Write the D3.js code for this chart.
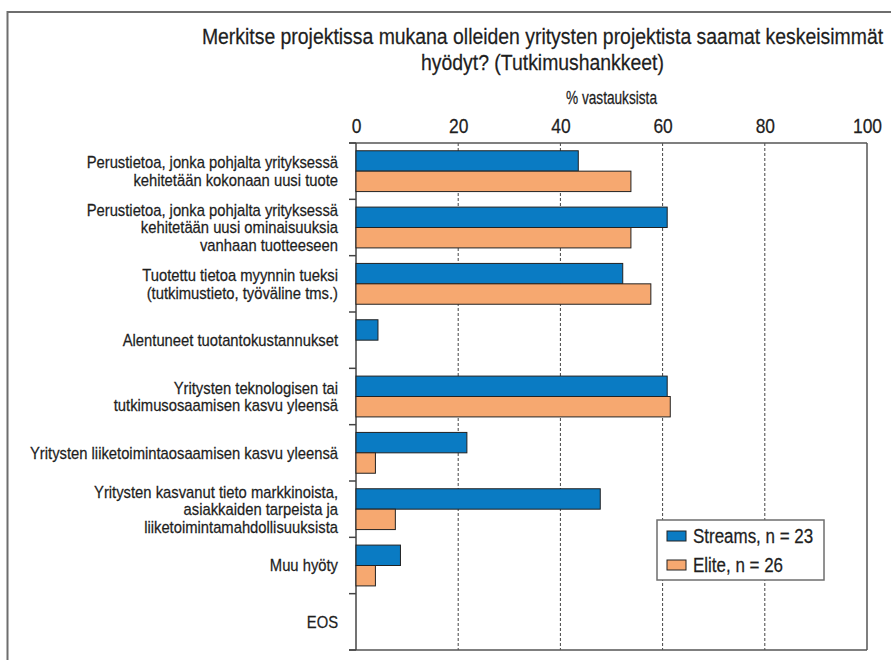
<!DOCTYPE html>
<html>
<head>
<meta charset="utf-8">
<script src="https://cdn.jsdelivr.net/npm/d3@7"></script>
<style>
  html, body { margin: 0; padding: 0; background: #fff; }
  svg { display: block; }
  text { font-family: "Liberation Sans", Arial, sans-serif; fill: #1e1e1e; stroke: #1e1e1e; stroke-width: 0.25px; }
</style>
</head>
<body>
<svg id="chart" width="891" height="660"></svg>
<script>
const titleLines = ["Merkitse projektissa mukana olleiden yritysten projektista saamat keskeisimmät", "hyödyt? (Tutkimushankkeet)"];
const axisTitle = "% vastauksista";
const categories = [
  "Perustietoa, jonka pohjalta yrityksessä\nkehitetään kokonaan uusi tuote",
  "Perustietoa, jonka pohjalta yrityksessä\nkehitetään uusi ominaisuuksia\nvanhaan tuotteeseen",
  "Tuotettu tietoa myynnin tueksi\n(tutkimustieto, työväline tms.)",
  "Alentuneet tuotantokustannukset",
  "Yritysten teknologisen tai\ntutkimusosaamisen kasvu yleensä",
  "Yritysten liiketoimintaosaamisen kasvu yleensä",
  "Yritysten kasvanut tieto markkinoista,\nasiakkaiden tarpeista ja\nliiketoimintamahdollisuuksista",
  "Muu hyöty",
  "EOS"
];
const seriesNames = ["Streams, n = 23", "Elite, n = 26"];
const streams = [43.5, 60.9, 52.2, 4.3, 60.9, 21.7, 47.8, 8.7, 0];
const elite   = [53.8, 53.8, 57.7, 0, 61.5, 3.8, 7.7, 3.8, 0];
const xTicks = [0, 20, 40, 60, 80, 100];
const colors = ["#0a7bc3", "#f6a870"];

const FONT = '"Liberation Sans", Arial, sans-serif';
const SQ = 0.87; // horizontal condensing to mimic a narrow sans
function condense(sel, s) {
  const k = s || SQ;
  sel.each(function() {
    const t = d3.select(this);
    const x0 = +t.attr("x") || 0;
    t.attr("transform", `translate(${x0},0) scale(${k},1) translate(${-x0},0)`);
  });
}

const svg = d3.select("#chart");

// outer frame (extends past the window to the right and bottom)
svg.append("path")
  .attr("d", "M7.5,700 L7.5,12 L900,12")
  .attr("fill", "none").attr("stroke", "#6e6e6e").attr("stroke-width", 2);

const pLeft = 356, pRight = 867, pTop = 143, pBottom = 650;
const x = d3.scaleLinear().domain([0, 100]).range([pLeft, pRight]);
const y = d3.scaleBand().domain(categories).range([pTop, pBottom]).paddingInner(0);
const inner = d3.scaleBand().domain([0, 1]).range([0, y.bandwidth()]).paddingInner(0).paddingOuter(0.38);

// title
svg.selectAll("text.title").data(titleLines).enter().append("text")
  .attr("class", "title")
  .attr("x", 542.5)
  .attr("y", (d, i) => 44 + i * 26)
  .attr("text-anchor", "middle")
  .attr("font-size", 22.3)
  .text(d => d)
  .call(condense);

svg.append("text")
  .attr("x", (pLeft + pRight) / 2).attr("y", 104)
  .attr("text-anchor", "middle").attr("font-size", 17.5)
  .text(axisTitle)
  .call(condense, 0.78);

// gridlines
svg.append("g").selectAll("line").data(xTicks.filter(t => t > 0 && t < 100)).enter().append("line")
  .attr("x1", d => x(d)).attr("x2", d => x(d))
  .attr("y1", pTop).attr("y2", pBottom)
  .attr("stroke", "#444").attr("stroke-width", 1).attr("stroke-dasharray", "3,2");

// right solid border
svg.append("line").attr("x1", x(100)).attr("x2", x(100)).attr("y1", pTop).attr("y2", pBottom)
  .attr("stroke", "#555").attr("stroke-width", 1.5);
// bottom line
svg.append("line").attr("x1", pLeft - 7).attr("x2", x(100)).attr("y1", pBottom).attr("y2", pBottom)
  .attr("stroke", "#555").attr("stroke-width", 1.5);

// top axis
const xAxis = d3.axisTop(x).tickValues(xTicks).tickSize(0).tickPadding(10);
const gx = svg.append("g").attr("transform", `translate(0,${pTop})`).call(xAxis);
gx.select(".domain").remove();
gx.selectAll("text").attr("font-size", 20).style("font-family", FONT)
  .attr("x", 0).call(condense);
svg.append("line").attr("x1", pLeft - 7).attr("x2", x(100)).attr("y1", pTop).attr("y2", pTop)
  .attr("stroke", "#555").attr("stroke-width", 1.5);

// left axis line + boundary ticks
svg.append("line").attr("x1", pLeft).attr("x2", pLeft).attr("y1", pTop).attr("y2", pBottom)
  .attr("stroke", "#444").attr("stroke-width", 1.5);
const boundaries = categories.map(c => y(c)).concat([y.range()[1]]);
svg.append("g").selectAll("line").data(boundaries).enter().append("line")
  .attr("x1", pLeft - 7).attr("x2", pLeft).attr("y1", d => d).attr("y2", d => d)
  .attr("stroke", "#444").attr("stroke-width", 1.5);

// category labels
const yAxis = d3.axisLeft(y).tickSize(0).tickPadding(18);
const gy = svg.append("g").attr("transform", `translate(${pLeft},0)`).call(yAxis);
gy.select(".domain").remove();
gy.selectAll(".tick text").each(function(d) {
  const t = d3.select(this);
  const lines = d.split("\n");
  t.text(null).attr("font-size", 17).attr("dy", null).style("font-family", FONT);
  const lh = 17.5;
  const x0 = t.attr("x");
  lines.forEach((ln, i) => {
    t.append("tspan").attr("x", x0)
      .attr("y", (i - (lines.length - 1) / 2) * lh)
      .attr("dy", "0.35em")
      .text(ln);
  });
}).call(condense);

// bars
const series = [streams, elite];
series.forEach((vals, si) => {
  svg.append("g").selectAll("rect").data(vals.map((v, i) => ({v, c: categories[i]})).filter(d => d.v > 0))
    .enter().append("rect")
    .attr("x", x(0))
    .attr("y", d => y(d.c) + inner(si))
    .attr("width", d => x(d.v) - x(0))
    .attr("height", inner.bandwidth())
    .attr("fill", colors[si])
    .attr("stroke", "#222").attr("stroke-width", 1);
});

// legend
const lg = svg.append("g").attr("transform", "translate(657,520)");
lg.append("rect").attr("width", 167).attr("height", 60)
  .attr("fill", "#fff").attr("stroke", "#6e6e6e").attr("stroke-width", 1.5);
seriesNames.forEach((n, i) => {
  lg.append("rect").attr("x", 10).attr("y", 11 + i * 29).attr("width", 19).attr("height", 10)
    .attr("fill", colors[i]).attr("stroke", "#222").attr("stroke-width", 1);
  lg.append("text").attr("x", 36).attr("y", 23 + i * 29).attr("font-size", 19.5).text(n).call(condense);
});
</script>
</body>
</html>
